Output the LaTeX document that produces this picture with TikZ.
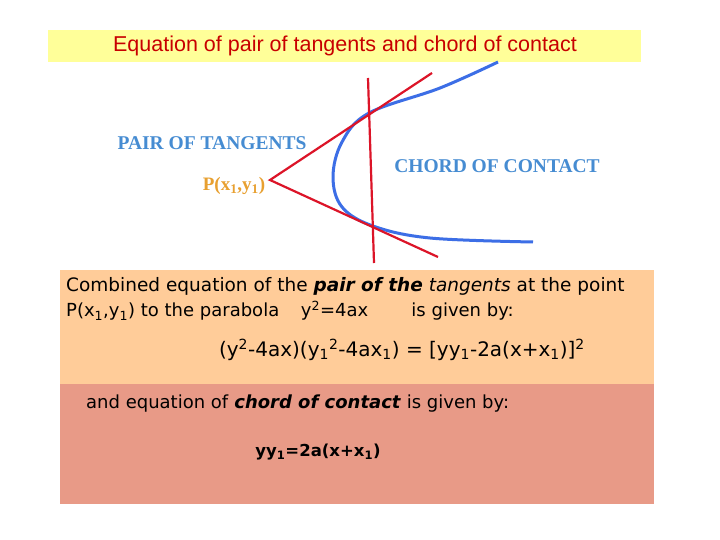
\documentclass[tikz,border=0pt]{standalone}
\usepackage{fontspec}
\setmainfont{DejaVu Sans}
\newfontfamily\arialf{Liberation Sans}
\newfontfamily\timesf{Liberation Serif}
\definecolor{ttlbg}{RGB}{255,255,153}
\definecolor{ttlfg}{RGB}{200,0,0}
\definecolor{redl}{RGB}{220,20,40}
\definecolor{parab}{RGB}{60,110,230}
\definecolor{lblc}{RGB}{70,140,210}
\definecolor{pcol}{RGB}{232,160,48}
\definecolor{box1}{RGB}{255,204,153}
\definecolor{box2}{RGB}{232,154,135}
\begin{document}
\begin{tikzpicture}[x=1pt,y=-1pt,
  redline/.style={draw=redl,line width=2.2pt},
  lbl/.style={font=\timesf\bfseries\fontsize{19.5}{20}\selectfont,text=lblc},
  body/.style={font=\fontsize{18}{20}\selectfont,anchor=west,inner sep=0}]
\useasboundingbox (0,0) rectangle (720,540);
\fill[white] (0,0) rectangle (720,540);
\fill[ttlbg] (48,30) rectangle (641,62);
\node[font=\arialf\fontsize{21.5}{22}\selectfont,text=ttlfg] (title) at (345,46) {Equation of pair of tangents and chord of contact};
\draw[draw=parab,line width=3pt] plot[smooth,tension=0.6] coordinates {(498,62)(440,88)(369,113)(342,142)(333,177)(342,207)(373,226)(430,238)(533,242)};
\coordinate (P) at (270,180);
\coordinate (T1) at (432,73);
\coordinate (T2) at (438,257);
\coordinate (C1) at (368,78);
\coordinate (C2) at (374,263);
\draw[redline] (T1) -- (P) -- (T2);
\draw[redline] (C1) -- (C2);
\node[lbl] (pt) at (212,143) {PAIR OF TANGENTS};
\node[lbl] (cc) at (497,166) {CHORD OF CONTACT};
\node[font=\timesf\bfseries\fontsize{19}{20}\selectfont,text=pcol] (pl) at (234,186) {P(x\textsubscript{1},y\textsubscript{1})};
\fill[box1] (60,270) rectangle (654,384);
\fill[box2] (60,384) rectangle (654,504);
\node[body,font=\fontsize{18.5}{20}\selectfont] (l1) at (66,286) {Combined equation of the \textbf{\textit{pair of the}} \textit{tangents} at the point};
\node[body] (l2) at (66,311) {P(x\textsubscript{1},y\textsubscript{1}) to the parabola\hspace{1.2em}y\textsuperscript{2}=4ax\hspace{2.4em}is given by:};
\node[body,anchor=center,font=\fontsize{20}{22}\selectfont] (eq) at (402,350) {(y\textsuperscript{2}-4ax)(y\textsubscript{1}\textsuperscript{2}-4ax\textsubscript{1}) = [yy\textsubscript{1}-2a(x+x\textsubscript{1})]\textsuperscript{2}};
\node[body] (l3) at (86,404) {and equation of \textbf{\textit{chord of contact}} is given by:};
\node[body,anchor=center,font=\bfseries\fontsize{16.5}{18}\selectfont] (eq2) at (318,452) {yy\textsubscript{1}=2a(x+x\textsubscript{1})};
\end{tikzpicture}
\end{document}
